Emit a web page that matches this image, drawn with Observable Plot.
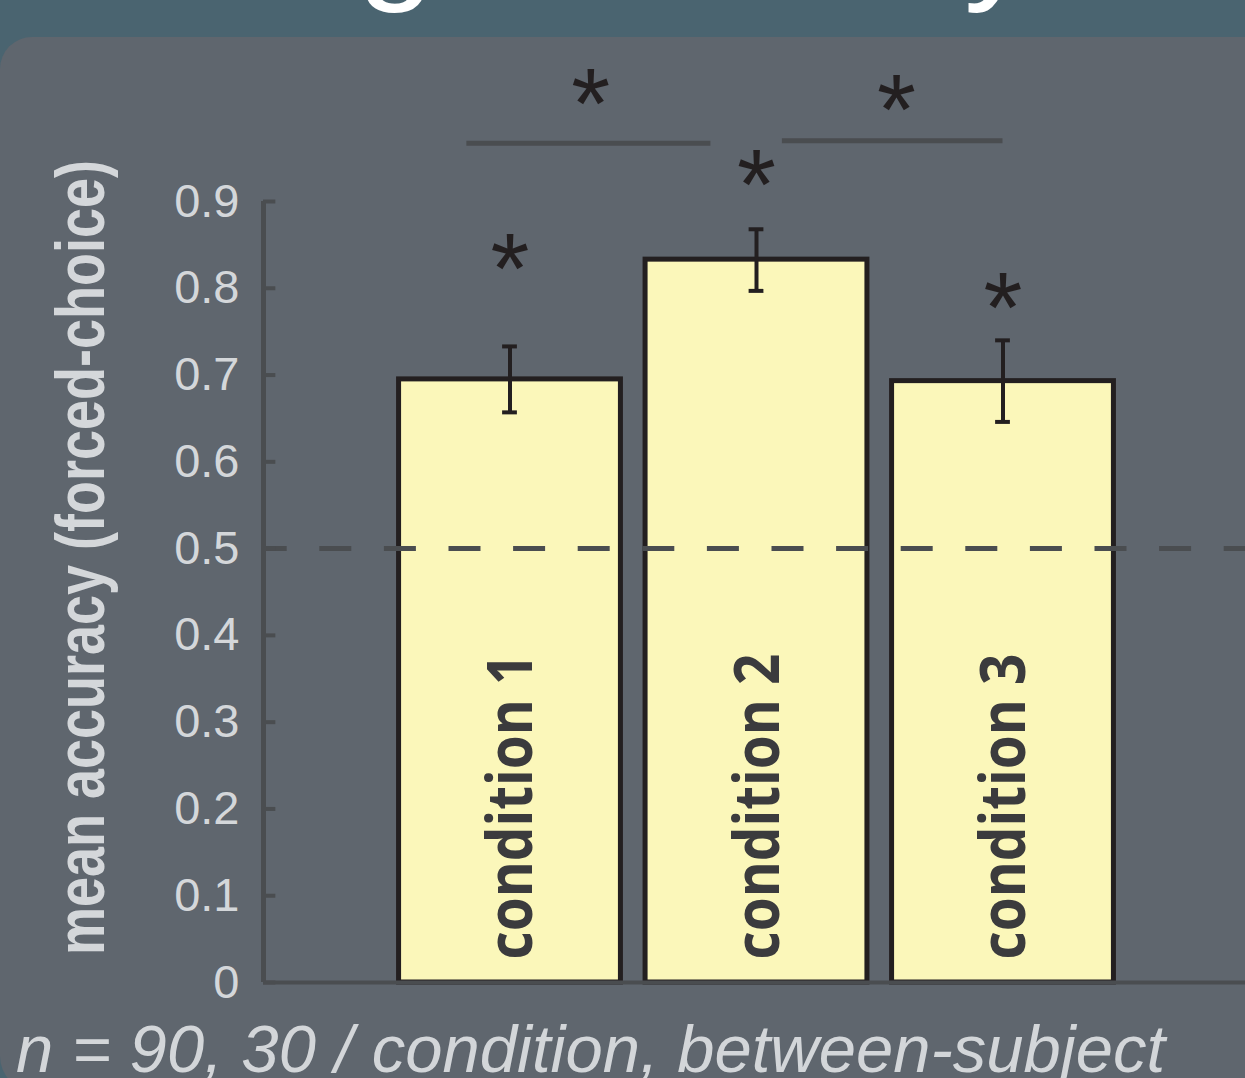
<!DOCTYPE html>
<html>
<head>
<meta charset="utf-8">
<script src="https://cdn.jsdelivr.net/npm/d3@7"></script>
<script src="https://cdn.jsdelivr.net/npm/@observablehq/plot@0.6"></script>
<style>
  html, body { margin: 0; padding: 0; width: 1245px; height: 1078px; overflow: hidden; background: #4a6470; }
  #title { position: absolute; left: 0; top: 0; }
  #panel { position: absolute; left: 0; top: 37px; width: 1245px; height: 1055px; background: #5f666e; border-radius: 32px 0 0 36px; }
  #chart { position: absolute; left: 0; top: 37px; }
  #caption { position: absolute; left: 16px; top: 1015px; font: italic 67px "Liberation Sans", Arial, sans-serif; line-height: 1; color: #d3d6d9; white-space: nowrap; }
</style>
</head>
<body>
<svg id="title" width="1245" height="37"><text x="20" y="-16" font-family="Liberation Sans, Arial, sans-serif" font-size="140" fill="#ffffff">Timing accuracy</text></svg>
<div id="panel"></div>
<div id="chart"></div>
<div id="caption">n = 90, 30 / condition, between-subject</div>
<script>
// ---- data ----
const categories = ["condition 1", "condition 2", "condition 3"];
const means      = [0.695, 0.833, 0.693];
const errLow     = [0.657, 0.797, 0.646];
const errHigh    = [0.733, 0.868, 0.740];
const chance     = 0.5;
const yTicks     = [0, 0.1, 0.2, 0.3, 0.4, 0.5, 0.6, 0.7, 0.8, 0.9];
const yLabel     = "mean accuracy (forced-choice)";
// significance annotations
const bracketX1  = [0.825, 2.105];
const bracketX2  = [1.815, 3.0];
const bracketY   = [0.967, 0.970];
const starX      = [1, 2, 3, 1.327, 2.568];
const starY      = [0.840, 0.936, 0.795, 1.030, 1.023];

const bars = categories.map((c, i) => ({cat: c, pos: i + 1, mean: means[i], lo: errLow[i], hi: errHigh[i]}));
const brackets = bracketX1.map((x1, i) => ({x1, x2: bracketX2[i], y: bracketY[i]}));
const stars = starX.map((x, i) => ({x, y: starY[i]}));

const half = 0.45, cap = 0.03;
const ink = "#231f20", axisGray = "#4a4d50";

const chart = Plot.plot({
  width: 1245,
  height: 1005,
  marginTop: 164,
  marginBottom: 60,
  marginLeft: 263,
  marginRight: -4,
  style: {background: "transparent", color: "#d4d7da", fontFamily: "Liberation Sans, Arial, sans-serif", overflow: "visible"},
  x: {type: "linear", domain: [0, 4], axis: null},
  y: {domain: [0, 0.9], axis: null},
  marks: [
    Plot.rectY(bars, {x1: d => d.pos - half, x2: d => d.pos + half, y: "mean", fill: "#fbf7ba", stroke: ink, strokeWidth: 5}),
    Plot.text(bars, {x: "pos", y: 0, text: "cat", rotate: -90, textAnchor: "start", lineAnchor: "bottom", dx: 22, dy: -23,
      fontSize: 62, fontWeight: 700, fontFamily: "Open Sans, sans-serif", fill: "#3b3b3d"}),
    Plot.ruleY([chance], {x1: 0, x2: 4, stroke: axisGray, strokeWidth: 5, strokeDasharray: "32,32.6", strokeDashoffset: 8.3}),
    Plot.ruleX(bars, {x: "pos", y1: "lo", y2: "hi", stroke: ink, strokeWidth: 4}),
    Plot.ruleY(bars, {y: "hi", x1: d => d.pos - cap, x2: d => d.pos + cap, stroke: ink, strokeWidth: 4}),
    Plot.ruleY(bars, {y: "lo", x1: d => d.pos - cap, x2: d => d.pos + cap, stroke: ink, strokeWidth: 4}),
    Plot.ruleY(brackets, {x1: "x1", x2: "x2", y: "y", stroke: axisGray, strokeWidth: 5}),
    Plot.text(stars, {x: "x", y: "y", text: () => "*", fontSize: 100, fill: ink, lineAnchor: "bottom", dy: 49}),
    // axes
    Plot.ruleY(yTicks, {x1: 0, x2: 0.05, stroke: axisGray, strokeWidth: 4}),
    Plot.ruleX([0], {y1: 0, y2: 0.9, stroke: axisGray, strokeWidth: 5}),
    Plot.ruleY([0], {x1: 0, x2: 4, stroke: axisGray, strokeWidth: 4}),
    Plot.axisY(yTicks, {anchor: "left", tickSize: 0, tickPadding: 24, fontSize: 47, label: null, tickFormat: d => String(d)}),
    Plot.text([yLabel], {frameAnchor: "left", rotate: -90, textAnchor: "start", lineAnchor: "bottom", dx: -160, dy: 363,
      fontSize: 68, fontWeight: "bold", fill: "#d4d7da"})
  ]
});

d3.select(chart).selectAll("text").each(function () {
  const t = this.textContent;
  if (categories.includes(t)) d3.select(this).attr("textLength", 306).attr("lengthAdjust", "spacingAndGlyphs");
  if (t === yLabel) d3.select(this).attr("textLength", 795).attr("lengthAdjust", "spacingAndGlyphs");
});

document.getElementById("chart").appendChild(chart);
</script>
</body>
</html>
